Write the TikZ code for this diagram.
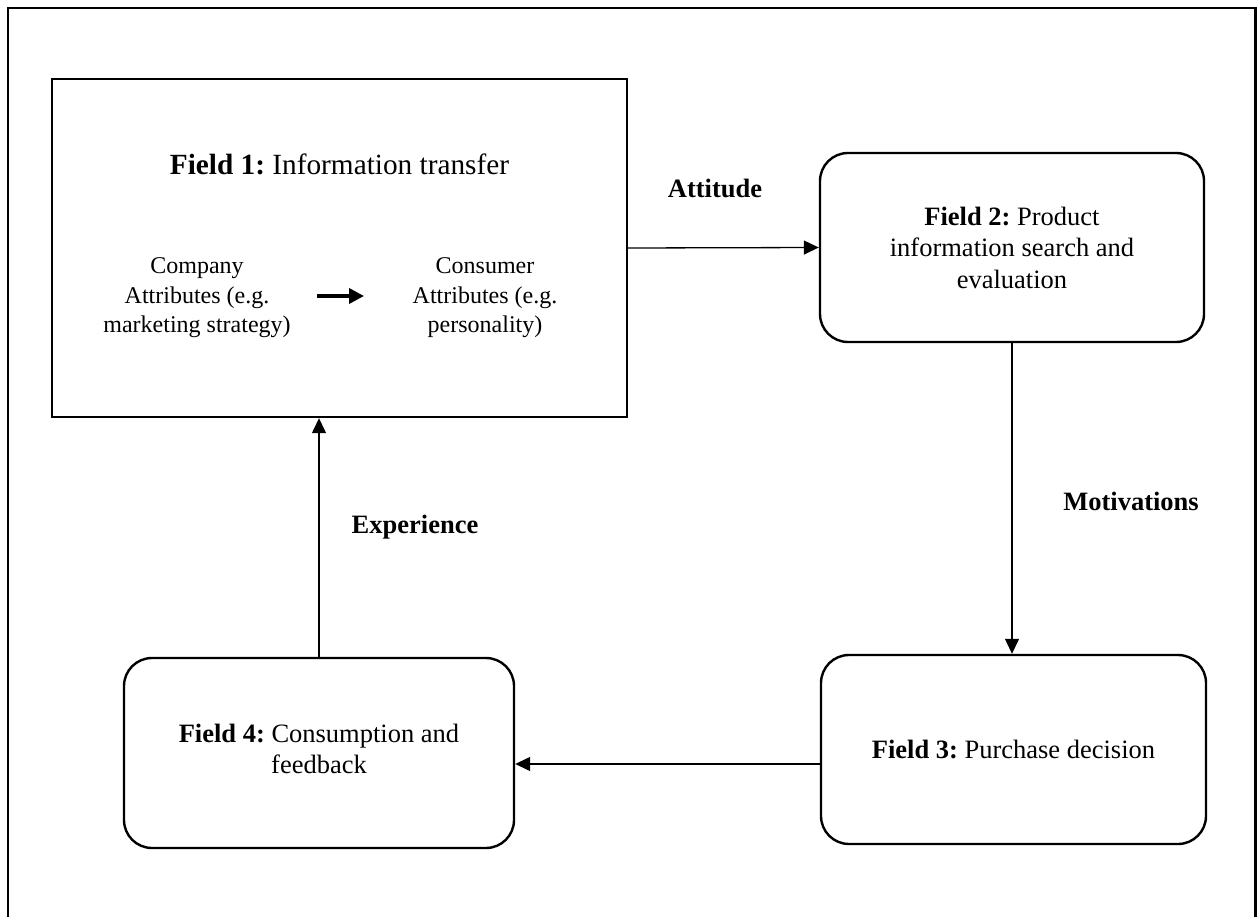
\documentclass[tikz,border=0pt]{standalone}
\usepackage{fontspec}
\setmainfont{Liberation Serif}
\usetikzlibrary{arrows.meta}
\frenchspacing
\begin{document}
\begin{tikzpicture}[x=1pt,y=-1pt,
  big/.style={font=\fontsize{29.3}{34}\selectfont, align=center, inner sep=0pt, anchor=base},
  txt/.style={font=\fontsize{26.5}{31.5}\selectfont, align=center, inner sep=0pt},
  small/.style={font=\fontsize{24}{29.5}\selectfont, align=center, inner sep=0pt},
  lbl/.style={font=\fontsize{26.5}{31.5}\selectfont\bfseries, inner sep=0pt, anchor=base},
  sqbox/.style={draw, line width=2.4pt, inner sep=0pt},
  fieldbox/.style={draw, line width=2.4pt, rounded corners=28pt, inner sep=0pt},
  conn/.style={line width=1.3pt, -{Triangle[length=15pt,width=14pt]}},
  thickarr/.style={line width=3.6pt, -{Triangle[length=15pt,width=15pt]}},
]
\useasboundingbox (0,0) rectangle (1258,917);
\draw[line width=2.7pt] (8,920) -- (8,8) -- (1255.5,8) -- (1255.5,920);

% boxes
\node[sqbox, minimum width=575pt, minimum height=338pt] (f1) at (339.5,248) {};
\node[fieldbox, minimum width=384pt, minimum height=189pt] (f2) at (1012,247.5) {};
\node[fieldbox, minimum width=385pt, minimum height=189pt] (f3) at (1013.5,749.5) {};
\node[fieldbox, minimum width=390pt, minimum height=190pt] (f4) at (319,753) {};

% texts
\node[big] (t1) at (339.5,175) {\textbf{Field 1:} Information transfer};
\node[small] (comp) at (197,298) {Company\\Attributes (e.g.\\marketing strategy)};
\node[small] (cons) at (485,298) {Consumer\\Attributes (e.g.\\personality)};
\node[txt] (t2) at (f2.center) {\textbf{Field 2:} Product\\information search and\\evaluation};
\node[txt] (t3) at (f3.center) {\textbf{Field 3:} Purchase decision};
\node[txt] (t4) at ([yshift=4pt]f4.center) {\textbf{Field 4:} Consumption and\\feedback};

\coordinate (ta) at (317,296);
\coordinate (tb) at (364,296);
\draw[thickarr] (ta) -- (tb);

% connectors
\draw[conn] (f1.east) -- (f2.west);
\draw[conn] (f2.south) -- (f2.south |- f3.north);
\draw[conn] (f3.west |- 0,764) -- (f4.east |- 0,764);
\draw[conn] (f4.north) -- (f4.north |- f1.south);

% labels
\node[lbl] (la) at (715,198) {Attitude};
\node[lbl] (lm) at (1131,510) {Motivations};
\node[lbl] (le) at (415,533) {Experience};
\end{tikzpicture}
\end{document}
